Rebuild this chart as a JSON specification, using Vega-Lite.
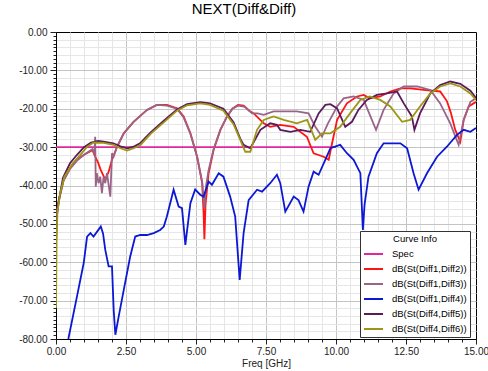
{
"$schema":"https://vega.github.io/schema/vega-lite/v6.json",
"width":420,"height":307,"autosize":"none",
"padding":{"left":56,"top":32,"right":12,"bottom":32},
"title":{"text":"NEXT(Diff&Diff)","fontSize":15,"fontWeight":"normal","font":"Liberation Sans","color":"#000","dx":-22,"offset":10},
"config":{"view":{"stroke":"#000","strokeWidth":1},"font":"Liberation Sans",
"axis":{"labelFont":"Liberation Sans","labelFontSize":10,"labelColor":"#222","tickColor":"#222","domainColor":"#000","titleFont":"Liberation Sans","titleFontWeight":"normal","titleFontSize":10,"titleColor":"#222","labelFlush":false,"labelOverlap":false}},
"data":{"values":[
{"s":"Spec","f":0,"v":-30},{"s":"Spec","f":10,"v":-30},
{"s":"dB(St(Diff1,Diff2))","f":0,"v":-53},{"s":"dB(St(Diff1,Diff2))","f":0.03,"v":-47},{"s":"dB(St(Diff1,Diff2))","f":0.1,"v":-43.8},{"s":"dB(St(Diff1,Diff2))","f":0.27,"v":-38.5},{"s":"dB(St(Diff1,Diff2))","f":0.5,"v":-35.5},{"s":"dB(St(Diff1,Diff2))","f":0.75,"v":-33.3},{"s":"dB(St(Diff1,Diff2))","f":1.0,"v":-32},{"s":"dB(St(Diff1,Diff2))","f":1.2,"v":-31.2},{"s":"dB(St(Diff1,Diff2))","f":1.3,"v":-30.8},{"s":"dB(St(Diff1,Diff2))","f":1.4,"v":-32.5},{"s":"dB(St(Diff1,Diff2))","f":1.5,"v":-34},{"s":"dB(St(Diff1,Diff2))","f":1.6,"v":-36},{"s":"dB(St(Diff1,Diff2))","f":1.76,"v":-38.5},{"s":"dB(St(Diff1,Diff2))","f":1.88,"v":-36.4},{"s":"dB(St(Diff1,Diff2))","f":2.0,"v":-33.3},{"s":"dB(St(Diff1,Diff2))","f":2.18,"v":-29.9},{"s":"dB(St(Diff1,Diff2))","f":2.42,"v":-26.4},{"s":"dB(St(Diff1,Diff2))","f":2.77,"v":-23.4},{"s":"dB(St(Diff1,Diff2))","f":3.25,"v":-20.3},{"s":"dB(St(Diff1,Diff2))","f":3.6,"v":-19},{"s":"dB(St(Diff1,Diff2))","f":3.96,"v":-19},{"s":"dB(St(Diff1,Diff2))","f":4.32,"v":-19.9},{"s":"dB(St(Diff1,Diff2))","f":4.56,"v":-22},{"s":"dB(St(Diff1,Diff2))","f":4.8,"v":-26.4},{"s":"dB(St(Diff1,Diff2))","f":5.04,"v":-32.5},{"s":"dB(St(Diff1,Diff2))","f":5.22,"v":-39.4},{"s":"dB(St(Diff1,Diff2))","f":5.27,"v":-47},{"s":"dB(St(Diff1,Diff2))","f":5.3,"v":-54},{"s":"dB(St(Diff1,Diff2))","f":5.34,"v":-45},{"s":"dB(St(Diff1,Diff2))","f":5.45,"v":-36.8},{"s":"dB(St(Diff1,Diff2))","f":5.63,"v":-30.7},{"s":"dB(St(Diff1,Diff2))","f":5.87,"v":-25.5},{"s":"dB(St(Diff1,Diff2))","f":6.11,"v":-22},{"s":"dB(St(Diff1,Diff2))","f":6.3,"v":-20},{"s":"dB(St(Diff1,Diff2))","f":6.5,"v":-19},{"s":"dB(St(Diff1,Diff2))","f":6.7,"v":-19.2},{"s":"dB(St(Diff1,Diff2))","f":6.9,"v":-20.5},{"s":"dB(St(Diff1,Diff2))","f":7.06,"v":-21.2},{"s":"dB(St(Diff1,Diff2))","f":7.42,"v":-23.8},{"s":"dB(St(Diff1,Diff2))","f":7.65,"v":-24.7},{"s":"dB(St(Diff1,Diff2))","f":8.0,"v":-24.2},{"s":"dB(St(Diff1,Diff2))","f":8.49,"v":-24.7},{"s":"dB(St(Diff1,Diff2))","f":8.96,"v":-27.3},{"s":"dB(St(Diff1,Diff2))","f":9.2,"v":-31.6},{"s":"dB(St(Diff1,Diff2))","f":9.56,"v":-32.5},{"s":"dB(St(Diff1,Diff2))","f":9.74,"v":-33.3},{"s":"dB(St(Diff1,Diff2))","f":9.86,"v":-29},{"s":"dB(St(Diff1,Diff2))","f":10.04,"v":-22.9},{"s":"dB(St(Diff1,Diff2))","f":10.39,"v":-18.6},{"s":"dB(St(Diff1,Diff2))","f":10.75,"v":-16.8},{"s":"dB(St(Diff1,Diff2))","f":10.99,"v":-16.4},{"s":"dB(St(Diff1,Diff2))","f":11.2,"v":-17.3},{"s":"dB(St(Diff1,Diff2))","f":11.58,"v":-16.8},{"s":"dB(St(Diff1,Diff2))","f":11.94,"v":-15.5},{"s":"dB(St(Diff1,Diff2))","f":12.3,"v":-14.7},{"s":"dB(St(Diff1,Diff2))","f":12.65,"v":-14.7},{"s":"dB(St(Diff1,Diff2))","f":13.13,"v":-15.1},{"s":"dB(St(Diff1,Diff2))","f":13.72,"v":-15.5},{"s":"dB(St(Diff1,Diff2))","f":13.96,"v":-18},{"s":"dB(St(Diff1,Diff2))","f":14.1,"v":-21},{"s":"dB(St(Diff1,Diff2))","f":14.26,"v":-25.5},{"s":"dB(St(Diff1,Diff2))","f":14.44,"v":-28.6},{"s":"dB(St(Diff1,Diff2))","f":14.56,"v":-22.9},{"s":"dB(St(Diff1,Diff2))","f":14.74,"v":-19.4},{"s":"dB(St(Diff1,Diff2))","f":15,"v":-18.2},
{"s":"dB(St(Diff1,Diff3))","f":0,"v":-52},{"s":"dB(St(Diff1,Diff3))","f":0.03,"v":-47},{"s":"dB(St(Diff1,Diff3))","f":0.1,"v":-44},{"s":"dB(St(Diff1,Diff3))","f":0.27,"v":-38.8},{"s":"dB(St(Diff1,Diff3))","f":0.5,"v":-35.7},{"s":"dB(St(Diff1,Diff3))","f":0.75,"v":-33.5},{"s":"dB(St(Diff1,Diff3))","f":1.0,"v":-32},{"s":"dB(St(Diff1,Diff3))","f":1.2,"v":-31},{"s":"dB(St(Diff1,Diff3))","f":1.3,"v":-30.5},{"s":"dB(St(Diff1,Diff3))","f":1.37,"v":-31.8},{"s":"dB(St(Diff1,Diff3))","f":1.4,"v":-27.3},{"s":"dB(St(Diff1,Diff3))","f":1.42,"v":-40.3},{"s":"dB(St(Diff1,Diff3))","f":1.46,"v":-36.8},{"s":"dB(St(Diff1,Diff3))","f":1.52,"v":-39.4},{"s":"dB(St(Diff1,Diff3))","f":1.58,"v":-37.7},{"s":"dB(St(Diff1,Diff3))","f":1.64,"v":-42},{"s":"dB(St(Diff1,Diff3))","f":1.7,"v":-37.7},{"s":"dB(St(Diff1,Diff3))","f":1.76,"v":-39.4},{"s":"dB(St(Diff1,Diff3))","f":1.82,"v":-36.8},{"s":"dB(St(Diff1,Diff3))","f":1.94,"v":-42.9},{"s":"dB(St(Diff1,Diff3))","f":2.0,"v":-31.6},{"s":"dB(St(Diff1,Diff3))","f":2.06,"v":-32.5},{"s":"dB(St(Diff1,Diff3))","f":2.18,"v":-29.9},{"s":"dB(St(Diff1,Diff3))","f":2.42,"v":-26.4},{"s":"dB(St(Diff1,Diff3))","f":2.77,"v":-23.4},{"s":"dB(St(Diff1,Diff3))","f":3.25,"v":-20.3},{"s":"dB(St(Diff1,Diff3))","f":3.6,"v":-19},{"s":"dB(St(Diff1,Diff3))","f":3.96,"v":-19.2},{"s":"dB(St(Diff1,Diff3))","f":4.32,"v":-20},{"s":"dB(St(Diff1,Diff3))","f":4.56,"v":-22.3},{"s":"dB(St(Diff1,Diff3))","f":4.8,"v":-26.5},{"s":"dB(St(Diff1,Diff3))","f":5.04,"v":-32.5},{"s":"dB(St(Diff1,Diff3))","f":5.22,"v":-39},{"s":"dB(St(Diff1,Diff3))","f":5.3,"v":-46},{"s":"dB(St(Diff1,Diff3))","f":5.36,"v":-40},{"s":"dB(St(Diff1,Diff3))","f":5.45,"v":-36},{"s":"dB(St(Diff1,Diff3))","f":5.63,"v":-30.5},{"s":"dB(St(Diff1,Diff3))","f":5.87,"v":-25.5},{"s":"dB(St(Diff1,Diff3))","f":6.11,"v":-22},{"s":"dB(St(Diff1,Diff3))","f":6.3,"v":-20},{"s":"dB(St(Diff1,Diff3))","f":6.5,"v":-19.2},{"s":"dB(St(Diff1,Diff3))","f":6.75,"v":-19.5},{"s":"dB(St(Diff1,Diff3))","f":7.0,"v":-21.2},{"s":"dB(St(Diff1,Diff3))","f":7.2,"v":-21.2},{"s":"dB(St(Diff1,Diff3))","f":7.42,"v":-21.6},{"s":"dB(St(Diff1,Diff3))","f":7.77,"v":-20.7},{"s":"dB(St(Diff1,Diff3))","f":8.13,"v":-20.7},{"s":"dB(St(Diff1,Diff3))","f":8.6,"v":-20.7},{"s":"dB(St(Diff1,Diff3))","f":9.02,"v":-21.2},{"s":"dB(St(Diff1,Diff3))","f":9.26,"v":-24.7},{"s":"dB(St(Diff1,Diff3))","f":9.5,"v":-27.3},{"s":"dB(St(Diff1,Diff3))","f":9.7,"v":-24},{"s":"dB(St(Diff1,Diff3))","f":10.04,"v":-19.4},{"s":"dB(St(Diff1,Diff3))","f":10.27,"v":-17.3},{"s":"dB(St(Diff1,Diff3))","f":10.63,"v":-16.8},{"s":"dB(St(Diff1,Diff3))","f":10.99,"v":-17.7},{"s":"dB(St(Diff1,Diff3))","f":11.23,"v":-22},{"s":"dB(St(Diff1,Diff3))","f":11.43,"v":-25.5},{"s":"dB(St(Diff1,Diff3))","f":11.7,"v":-20.3},{"s":"dB(St(Diff1,Diff3))","f":12.06,"v":-16},{"s":"dB(St(Diff1,Diff3))","f":12.42,"v":-14.2},{"s":"dB(St(Diff1,Diff3))","f":12.9,"v":-14.2},{"s":"dB(St(Diff1,Diff3))","f":13.37,"v":-15.1},{"s":"dB(St(Diff1,Diff3))","f":13.72,"v":-18.6},{"s":"dB(St(Diff1,Diff3))","f":14.08,"v":-23.8},{"s":"dB(St(Diff1,Diff3))","f":14.38,"v":-29.4},{"s":"dB(St(Diff1,Diff3))","f":14.56,"v":-22.9},{"s":"dB(St(Diff1,Diff3))","f":14.8,"v":-18.2},{"s":"dB(St(Diff1,Diff3))","f":15,"v":-17.3},
{"s":"dB(St(Diff1,Diff4))","f":0.44,"v":-80},{"s":"dB(St(Diff1,Diff4))","f":0.75,"v":-68.9},{"s":"dB(St(Diff1,Diff4))","f":0.99,"v":-60.2},{"s":"dB(St(Diff1,Diff4))","f":1.11,"v":-53.3},{"s":"dB(St(Diff1,Diff4))","f":1.23,"v":-52.4},{"s":"dB(St(Diff1,Diff4))","f":1.34,"v":-53.3},{"s":"dB(St(Diff1,Diff4))","f":1.52,"v":-51.5},{"s":"dB(St(Diff1,Diff4))","f":1.6,"v":-50.7},{"s":"dB(St(Diff1,Diff4))","f":1.68,"v":-52.5},{"s":"dB(St(Diff1,Diff4))","f":1.76,"v":-56.8},{"s":"dB(St(Diff1,Diff4))","f":1.88,"v":-61.1},{"s":"dB(St(Diff1,Diff4))","f":2.0,"v":-61.1},{"s":"dB(St(Diff1,Diff4))","f":2.06,"v":-72.4},{"s":"dB(St(Diff1,Diff4))","f":2.12,"v":-78.9},{"s":"dB(St(Diff1,Diff4))","f":2.24,"v":-74.1},{"s":"dB(St(Diff1,Diff4))","f":2.42,"v":-67.2},{"s":"dB(St(Diff1,Diff4))","f":2.65,"v":-58.5},{"s":"dB(St(Diff1,Diff4))","f":2.83,"v":-53.3},{"s":"dB(St(Diff1,Diff4))","f":3.01,"v":-52.9},{"s":"dB(St(Diff1,Diff4))","f":3.25,"v":-52.9},{"s":"dB(St(Diff1,Diff4))","f":3.49,"v":-52.4},{"s":"dB(St(Diff1,Diff4))","f":3.72,"v":-51.6},{"s":"dB(St(Diff1,Diff4))","f":3.85,"v":-50.7},{"s":"dB(St(Diff1,Diff4))","f":3.96,"v":-48.1},{"s":"dB(St(Diff1,Diff4))","f":4.2,"v":-41.1},{"s":"dB(St(Diff1,Diff4))","f":4.38,"v":-45.5},{"s":"dB(St(Diff1,Diff4))","f":4.5,"v":-45.9},{"s":"dB(St(Diff1,Diff4))","f":4.62,"v":-55.5},{"s":"dB(St(Diff1,Diff4))","f":4.8,"v":-44.6},{"s":"dB(St(Diff1,Diff4))","f":4.97,"v":-41},{"s":"dB(St(Diff1,Diff4))","f":5.15,"v":-42.4},{"s":"dB(St(Diff1,Diff4))","f":5.27,"v":-42.9},{"s":"dB(St(Diff1,Diff4))","f":5.45,"v":-39},{"s":"dB(St(Diff1,Diff4))","f":5.57,"v":-39.8},{"s":"dB(St(Diff1,Diff4))","f":5.81,"v":-36.8},{"s":"dB(St(Diff1,Diff4))","f":5.98,"v":-37.7},{"s":"dB(St(Diff1,Diff4))","f":6.22,"v":-42.9},{"s":"dB(St(Diff1,Diff4))","f":6.4,"v":-48.1},{"s":"dB(St(Diff1,Diff4))","f":6.56,"v":-64.6},{"s":"dB(St(Diff1,Diff4))","f":6.7,"v":-52.4},{"s":"dB(St(Diff1,Diff4))","f":6.88,"v":-43.8},{"s":"dB(St(Diff1,Diff4))","f":7.18,"v":-41.1},{"s":"dB(St(Diff1,Diff4))","f":7.36,"v":-41.6},{"s":"dB(St(Diff1,Diff4))","f":7.65,"v":-39.4},{"s":"dB(St(Diff1,Diff4))","f":7.89,"v":-37.2},{"s":"dB(St(Diff1,Diff4))","f":8.01,"v":-39.4},{"s":"dB(St(Diff1,Diff4))","f":8.19,"v":-46.8},{"s":"dB(St(Diff1,Diff4))","f":8.49,"v":-42.9},{"s":"dB(St(Diff1,Diff4))","f":8.66,"v":-43.8},{"s":"dB(St(Diff1,Diff4))","f":8.84,"v":-46.8},{"s":"dB(St(Diff1,Diff4))","f":9.02,"v":-40.3},{"s":"dB(St(Diff1,Diff4))","f":9.2,"v":-36.4},{"s":"dB(St(Diff1,Diff4))","f":9.38,"v":-37.2},{"s":"dB(St(Diff1,Diff4))","f":9.8,"v":-30.3},{"s":"dB(St(Diff1,Diff4))","f":10.15,"v":-29.4},{"s":"dB(St(Diff1,Diff4))","f":10.39,"v":-31.6},{"s":"dB(St(Diff1,Diff4))","f":10.63,"v":-33.3},{"s":"dB(St(Diff1,Diff4))","f":10.87,"v":-36.8},{"s":"dB(St(Diff1,Diff4))","f":10.96,"v":-51.6},{"s":"dB(St(Diff1,Diff4))","f":11.02,"v":-45},{"s":"dB(St(Diff1,Diff4))","f":11.16,"v":-37.7},{"s":"dB(St(Diff1,Diff4))","f":11.46,"v":-31.6},{"s":"dB(St(Diff1,Diff4))","f":11.7,"v":-29},{"s":"dB(St(Diff1,Diff4))","f":12.06,"v":-29},{"s":"dB(St(Diff1,Diff4))","f":12.3,"v":-29},{"s":"dB(St(Diff1,Diff4))","f":12.54,"v":-30.3},{"s":"dB(St(Diff1,Diff4))","f":12.77,"v":-36.8},{"s":"dB(St(Diff1,Diff4))","f":12.95,"v":-41.1},{"s":"dB(St(Diff1,Diff4))","f":13.25,"v":-36.8},{"s":"dB(St(Diff1,Diff4))","f":13.61,"v":-32.5},{"s":"dB(St(Diff1,Diff4))","f":13.96,"v":-29.9},{"s":"dB(St(Diff1,Diff4))","f":14.32,"v":-26.8},{"s":"dB(St(Diff1,Diff4))","f":14.56,"v":-25.5},{"s":"dB(St(Diff1,Diff4))","f":14.8,"v":-26},{"s":"dB(St(Diff1,Diff4))","f":15,"v":-25},
{"s":"dB(St(Diff4,Diff5))","f":0,"v":-55},{"s":"dB(St(Diff4,Diff5))","f":0.03,"v":-48},{"s":"dB(St(Diff4,Diff5))","f":0.1,"v":-44},{"s":"dB(St(Diff4,Diff5))","f":0.25,"v":-38},{"s":"dB(St(Diff4,Diff5))","f":0.5,"v":-34.2},{"s":"dB(St(Diff4,Diff5))","f":0.75,"v":-32},{"s":"dB(St(Diff4,Diff5))","f":1.0,"v":-30},{"s":"dB(St(Diff4,Diff5))","f":1.25,"v":-28.8},{"s":"dB(St(Diff4,Diff5))","f":1.5,"v":-28.4},{"s":"dB(St(Diff4,Diff5))","f":1.7,"v":-28.6},{"s":"dB(St(Diff4,Diff5))","f":2.05,"v":-29},{"s":"dB(St(Diff4,Diff5))","f":2.3,"v":-29.8},{"s":"dB(St(Diff4,Diff5))","f":2.55,"v":-30.3},{"s":"dB(St(Diff4,Diff5))","f":2.8,"v":-29.8},{"s":"dB(St(Diff4,Diff5))","f":3.0,"v":-29},{"s":"dB(St(Diff4,Diff5))","f":3.37,"v":-26.2},{"s":"dB(St(Diff4,Diff5))","f":3.84,"v":-23.2},{"s":"dB(St(Diff4,Diff5))","f":4.32,"v":-20.2},{"s":"dB(St(Diff4,Diff5))","f":4.68,"v":-18.8},{"s":"dB(St(Diff4,Diff5))","f":5.15,"v":-18.3},{"s":"dB(St(Diff4,Diff5))","f":5.5,"v":-18.6},{"s":"dB(St(Diff4,Diff5))","f":5.98,"v":-20},{"s":"dB(St(Diff4,Diff5))","f":6.34,"v":-23.5},{"s":"dB(St(Diff4,Diff5))","f":6.58,"v":-27.8},{"s":"dB(St(Diff4,Diff5))","f":6.7,"v":-29.4},{"s":"dB(St(Diff4,Diff5))","f":6.94,"v":-30.3},{"s":"dB(St(Diff4,Diff5))","f":7.3,"v":-25.5},{"s":"dB(St(Diff4,Diff5))","f":7.65,"v":-23.8},{"s":"dB(St(Diff4,Diff5))","f":7.89,"v":-24.2},{"s":"dB(St(Diff4,Diff5))","f":8.01,"v":-25.5},{"s":"dB(St(Diff4,Diff5))","f":8.37,"v":-26},{"s":"dB(St(Diff4,Diff5))","f":8.73,"v":-25.5},{"s":"dB(St(Diff4,Diff5))","f":9.08,"v":-26},{"s":"dB(St(Diff4,Diff5))","f":9.38,"v":-21.2},{"s":"dB(St(Diff4,Diff5))","f":9.62,"v":-19},{"s":"dB(St(Diff4,Diff5))","f":9.8,"v":-18.8},{"s":"dB(St(Diff4,Diff5))","f":10.04,"v":-19.9},{"s":"dB(St(Diff4,Diff5))","f":10.33,"v":-24.7},{"s":"dB(St(Diff4,Diff5))","f":10.57,"v":-23.4},{"s":"dB(St(Diff4,Diff5))","f":10.8,"v":-20.3},{"s":"dB(St(Diff4,Diff5))","f":11.1,"v":-17.7},{"s":"dB(St(Diff4,Diff5))","f":11.46,"v":-16.4},{"s":"dB(St(Diff4,Diff5))","f":11.82,"v":-16},{"s":"dB(St(Diff4,Diff5))","f":12.18,"v":-15.5},{"s":"dB(St(Diff4,Diff5))","f":12.42,"v":-18.6},{"s":"dB(St(Diff4,Diff5))","f":12.71,"v":-22},{"s":"dB(St(Diff4,Diff5))","f":12.8,"v":-25.5},{"s":"dB(St(Diff4,Diff5))","f":13.0,"v":-21.2},{"s":"dB(St(Diff4,Diff5))","f":13.37,"v":-16},{"s":"dB(St(Diff4,Diff5))","f":13.72,"v":-13.8},{"s":"dB(St(Diff4,Diff5))","f":14.08,"v":-12.9},{"s":"dB(St(Diff4,Diff5))","f":14.44,"v":-13.5},{"s":"dB(St(Diff4,Diff5))","f":14.8,"v":-15.3},{"s":"dB(St(Diff4,Diff5))","f":15,"v":-17.2},
{"s":"dB(St(Diff4,Diff6))","f":0,"v":-72},{"s":"dB(St(Diff4,Diff6))","f":0.02,"v":-55},{"s":"dB(St(Diff4,Diff6))","f":0.05,"v":-47},{"s":"dB(St(Diff4,Diff6))","f":0.15,"v":-42},{"s":"dB(St(Diff4,Diff6))","f":0.3,"v":-37.7},{"s":"dB(St(Diff4,Diff6))","f":0.6,"v":-34.2},{"s":"dB(St(Diff4,Diff6))","f":0.87,"v":-32},{"s":"dB(St(Diff4,Diff6))","f":1.1,"v":-30},{"s":"dB(St(Diff4,Diff6))","f":1.34,"v":-28.8},{"s":"dB(St(Diff4,Diff6))","f":1.7,"v":-28.9},{"s":"dB(St(Diff4,Diff6))","f":2.06,"v":-29.4},{"s":"dB(St(Diff4,Diff6))","f":2.3,"v":-30.3},{"s":"dB(St(Diff4,Diff6))","f":2.54,"v":-30.9},{"s":"dB(St(Diff4,Diff6))","f":2.77,"v":-30.3},{"s":"dB(St(Diff4,Diff6))","f":3.01,"v":-29.5},{"s":"dB(St(Diff4,Diff6))","f":3.37,"v":-26.6},{"s":"dB(St(Diff4,Diff6))","f":3.84,"v":-23.6},{"s":"dB(St(Diff4,Diff6))","f":4.32,"v":-20.5},{"s":"dB(St(Diff4,Diff6))","f":4.68,"v":-19.1},{"s":"dB(St(Diff4,Diff6))","f":5.15,"v":-18.6},{"s":"dB(St(Diff4,Diff6))","f":5.5,"v":-19},{"s":"dB(St(Diff4,Diff6))","f":5.98,"v":-20.5},{"s":"dB(St(Diff4,Diff6))","f":6.34,"v":-24},{"s":"dB(St(Diff4,Diff6))","f":6.58,"v":-28.1},{"s":"dB(St(Diff4,Diff6))","f":6.76,"v":-31.2},{"s":"dB(St(Diff4,Diff6))","f":6.94,"v":-31.2},{"s":"dB(St(Diff4,Diff6))","f":7.18,"v":-25.5},{"s":"dB(St(Diff4,Diff6))","f":7.42,"v":-22.9},{"s":"dB(St(Diff4,Diff6))","f":7.77,"v":-22},{"s":"dB(St(Diff4,Diff6))","f":8.13,"v":-22.9},{"s":"dB(St(Diff4,Diff6))","f":8.6,"v":-23.8},{"s":"dB(St(Diff4,Diff6))","f":8.97,"v":-22.9},{"s":"dB(St(Diff4,Diff6))","f":9.26,"v":-28.1},{"s":"dB(St(Diff4,Diff6))","f":9.5,"v":-26.4},{"s":"dB(St(Diff4,Diff6))","f":9.8,"v":-26.4},{"s":"dB(St(Diff4,Diff6))","f":10.15,"v":-24.7},{"s":"dB(St(Diff4,Diff6))","f":10.5,"v":-21.2},{"s":"dB(St(Diff4,Diff6))","f":10.87,"v":-17.7},{"s":"dB(St(Diff4,Diff6))","f":11.2,"v":-16.8},{"s":"dB(St(Diff4,Diff6))","f":11.58,"v":-17.7},{"s":"dB(St(Diff4,Diff6))","f":11.94,"v":-19.4},{"s":"dB(St(Diff4,Diff6))","f":12.36,"v":-23.4},{"s":"dB(St(Diff4,Diff6))","f":12.65,"v":-22.9},{"s":"dB(St(Diff4,Diff6))","f":13.0,"v":-19.4},{"s":"dB(St(Diff4,Diff6))","f":13.37,"v":-16},{"s":"dB(St(Diff4,Diff6))","f":13.72,"v":-14.2},{"s":"dB(St(Diff4,Diff6))","f":14.08,"v":-13.4},{"s":"dB(St(Diff4,Diff6))","f":14.44,"v":-14.2},{"s":"dB(St(Diff4,Diff6))","f":14.8,"v":-16},{"s":"dB(St(Diff4,Diff6))","f":15,"v":-17.7}
]},
"layer":[
{"transform":[{"filter":"datum.s == 'Spec'"}],
"mark":{"type":"line","strokeWidth":1.8,"clip":true},
"encoding":{
"x":{"field":"f","type":"quantitative","scale":{"domain":[0,15],"nice":false,"zero":false},
"axis":{"orient":"bottom","values":[0.5,1,1.5,2,3,3.5,4,4.5,5.5,6,6.5,7,8,8.5,9,9.5,10.5,11,11.5,12,13,13.5,14,14.5],"labels":false,"domain":false,"tickSize":3,"grid":true,"gridColor":"#e6e6e6","gridWidth":1,"title":null}},
"y":{"field":"v","type":"quantitative","scale":{"domain":[-80,0],"nice":false,"zero":false},
"axis":{"orient":"left","values":[-79,-78,-77,-76,-75,-74,-73,-72,-71,-69,-68,-67,-66,-65,-64,-63,-62,-61,-59,-58,-57,-56,-55,-54,-53,-52,-51,-49,-48,-47,-46,-45,-44,-43,-42,-41,-39,-38,-37,-36,-35,-34,-33,-32,-31,-29,-28,-27,-26,-25,-24,-23,-22,-21,-19,-18,-17,-16,-15,-14,-13,-12,-11,-9,-8,-7,-6,-5,-4,-3,-2,-1],"labels":false,"domain":false,"tickSize":3,"grid":true,"gridColor":"#e6e6e6","gridWidth":1,"gridOpacity":{"condition":{"test":"datum.value % 2 != 0","value":0},"value":1},"title":null}},
"color":{"field":"s","type":"nominal","scale":{"domain":["Spec","dB(St(Diff1,Diff2))","dB(St(Diff1,Diff3))","dB(St(Diff1,Diff4))","dB(St(Diff4,Diff5))","dB(St(Diff4,Diff6))"],"range":["#e0289c","#ff1414","#9a6488","#0c18d4","#5c1a5c","#9c9614"]}}
}},
{"transform":[{"filter":"datum.s != 'Spec'"}],
"mark":{"type":"line","strokeWidth":1.8,"clip":true},
"encoding":{
"x":{"field":"f","type":"quantitative","scale":{"domain":[0,15],"nice":false,"zero":false},
"axis":{"orient":"bottom","values":[0,2.5,5,7.5,10,12.5,15],"format":".2f","tickSize":5,"labelPadding":2,"grid":true,"gridColor":"#c4c4c4","gridOpacity":{"condition":{"test":"datum.value == 0 || datum.value == 15","value":0},"value":1},"title":"Freq [GHz]","titlePadding":2}},
"y":{"field":"v","type":"quantitative","scale":{"domain":[-80,0],"nice":false,"zero":false},
"axis":{"orient":"left","values":[-80,-70,-60,-50,-40,-30,-20,-10,0],"labelExpr":"replace(format(datum.value, '.2f'), '\u2212', '-')","tickSize":6,"labelPadding":3,"grid":true,"gridColor":"#c4c4c4","gridOpacity":{"condition":{"test":"datum.value == 0 || datum.value == -80","value":0},"value":1},"title":null}},
"color":{"field":"s","type":"nominal","scale":{"domain":["Spec","dB(St(Diff1,Diff2))","dB(St(Diff1,Diff3))","dB(St(Diff1,Diff4))","dB(St(Diff4,Diff5))","dB(St(Diff4,Diff6))"],"range":["#e0289c","#ff1414","#9a6488","#0c18d4","#5c1a5c","#9c9614"]},
"legend":{"orient":"none","legendX":304,"legendY":199,"title":"Curve Info","titleFont":"Liberation Sans","titleFontSize":9.5,"titleFontWeight":"normal","titleColor":"#000","titleAnchor":"middle","titlePadding":0,"labelFont":"Liberation Sans","labelFontSize":9.5,"labelColor":"#000","labelOffset":8,"labelLimit":200,"symbolType":"stroke","symbolStrokeWidth":2,"symbolSize":361,"rowPadding":-8,"fillColor":"#ffffff","strokeColor":"#333333","padding":3}}
}}
],
"resolve":{"axis":{"x":"independent","y":"independent"}}
}
